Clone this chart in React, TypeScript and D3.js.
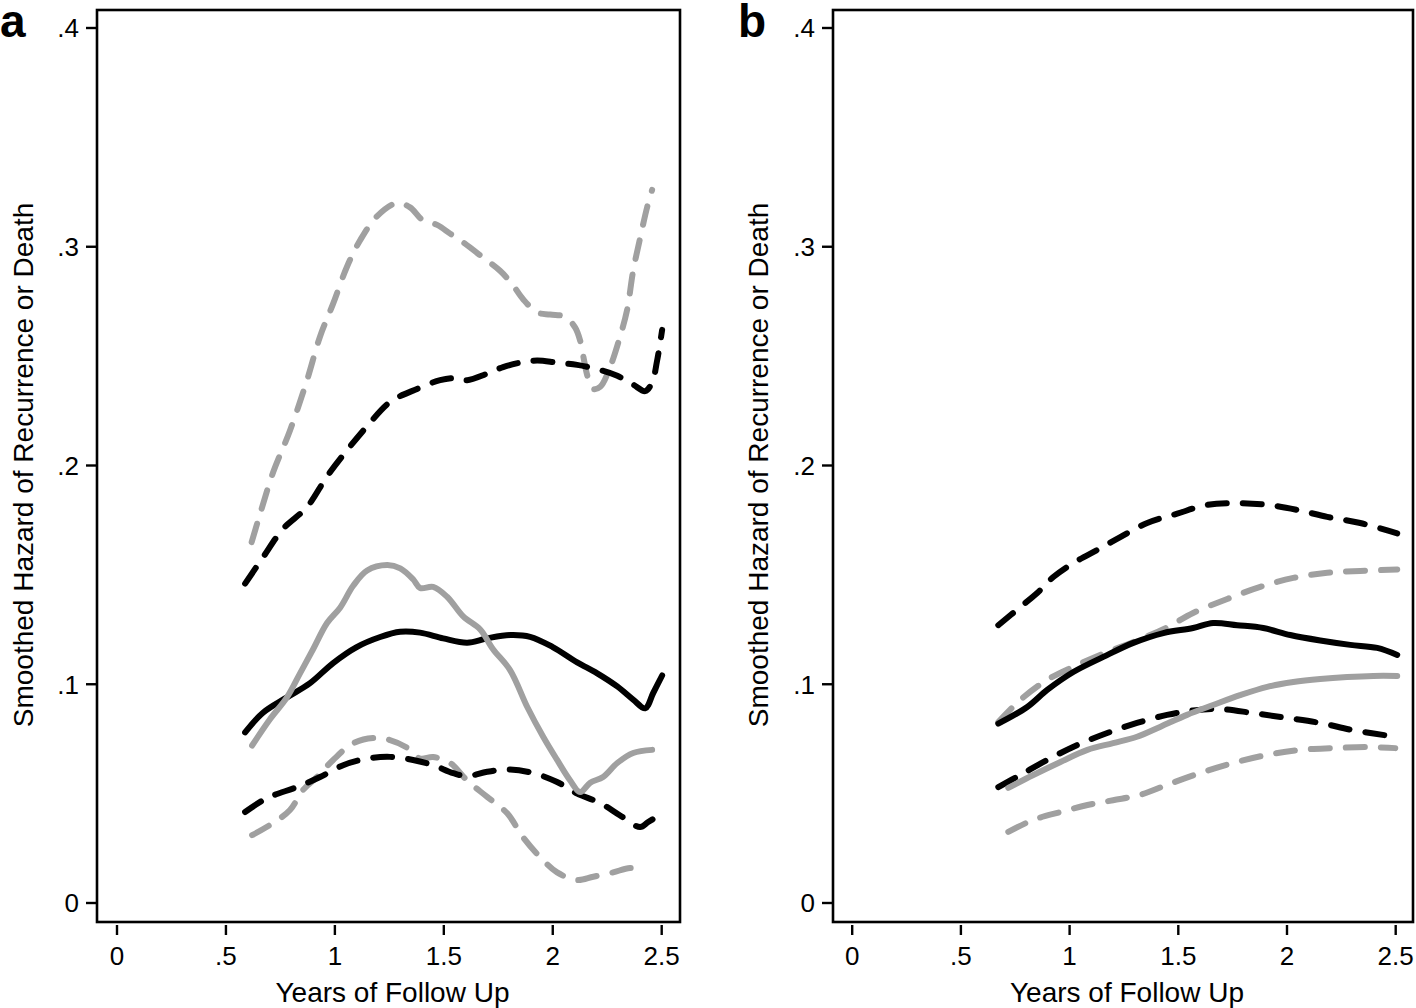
import React from "react";
import * as d3 from "d3";

type Pt = [number, number];

// ---------- Data (years, hazard) ----------
const xTicks = [0, 0.5, 1, 1.5, 2, 2.5];
const xTickLabels = ["0", ".5", "1", "1.5", "2", "2.5"];
const yTicks = [0, 0.1, 0.2, 0.3, 0.4];
const yTickLabels = ["0", ".1", ".2", ".3", ".4"];

// Panel a
const aGrayDashUpper: Pt[] = [
  [0.618, 0.165], [0.648, 0.175], [0.717, 0.197], [0.794, 0.216], [0.872, 0.239], [0.932, 0.259],
  [0.992, 0.274], [1.056, 0.291], [1.116, 0.303], [1.194, 0.314], [1.286, 0.320], [1.345, 0.318],
  [1.405, 0.312], [1.469, 0.310], [1.529, 0.306], [1.589, 0.302], [1.681, 0.295], [1.758, 0.289],
  [1.813, 0.283], [1.864, 0.276], [1.928, 0.270], [1.988, 0.269], [2.057, 0.268], [2.103, 0.263],
  [2.126, 0.257], [2.14, 0.250], [2.162, 0.240], [2.186, 0.235], [2.218, 0.236], [2.263, 0.245],
  [2.309, 0.259], [2.341, 0.271], [2.369, 0.289], [2.401, 0.304], [2.433, 0.318], [2.456, 0.326],
];
const aBlackDashUpper: Pt[] = [
  [0.588, 0.146], [0.670, 0.158], [0.762, 0.171], [0.872, 0.181], [0.964, 0.195], [1.056, 0.207],
  [1.148, 0.218], [1.253, 0.229], [1.377, 0.235], [1.483, 0.239], [1.56, 0.240], [1.607, 0.239],
  [1.699, 0.242], [1.772, 0.245], [1.850, 0.247], [1.928, 0.248], [2.020, 0.247], [2.112, 0.246],
  [2.204, 0.244], [2.296, 0.241], [2.369, 0.237], [2.424, 0.234], [2.456, 0.238], [2.479, 0.248],
  [2.502, 0.262],
];
const aGraySolid: Pt[] = [
  [0.620, 0.072], [0.702, 0.084], [0.78, 0.094], [0.840, 0.105], [0.900, 0.116], [0.964, 0.128],
  [1.024, 0.135], [1.084, 0.145], [1.148, 0.152], [1.24, 0.1545], [1.30, 0.153], [1.359, 0.148],
  [1.391, 0.144], [1.451, 0.1445], [1.515, 0.140], [1.589, 0.131], [1.667, 0.125], [1.726, 0.116],
  [1.804, 0.1065], [1.883, 0.0896], [1.956, 0.076], [2.02, 0.0654], [2.08, 0.056], [2.126, 0.0507],
  [2.172, 0.055], [2.231, 0.0576], [2.296, 0.064], [2.369, 0.0686], [2.456, 0.070],
];
const aBlackSolid: Pt[] = [
  [0.588, 0.078], [0.670, 0.087], [0.780, 0.094], [0.886, 0.1005], [0.992, 0.1097], [1.10, 0.117],
  [1.208, 0.1216], [1.30, 0.124], [1.391, 0.1236], [1.497, 0.121], [1.607, 0.119], [1.699, 0.121],
  [1.804, 0.1225], [1.896, 0.1217], [2.0, 0.117], [2.112, 0.110], [2.204, 0.105], [2.296, 0.099],
  [2.369, 0.093], [2.424, 0.089], [2.461, 0.096], [2.502, 0.104],
];
const aBlackDashLower: Pt[] = [
  [0.588, 0.0416], [0.689, 0.048], [0.826, 0.053], [0.932, 0.0576], [1.038, 0.063], [1.148, 0.066],
  [1.253, 0.0668], [1.359, 0.0654], [1.451, 0.063], [1.543, 0.0594], [1.607, 0.058], [1.699, 0.060],
  [1.804, 0.061], [1.910, 0.0594], [2.02, 0.0553], [2.112, 0.050], [2.218, 0.0457], [2.309, 0.040],
  [2.401, 0.0347], [2.438, 0.037], [2.502, 0.041],
];
const aGrayDashLower: Pt[] = [
  [0.620, 0.031], [0.717, 0.0366], [0.794, 0.0425], [0.854, 0.0517], [0.918, 0.0576], [0.992, 0.0654],
  [1.084, 0.073], [1.175, 0.0754], [1.253, 0.0745], [1.331, 0.071], [1.391, 0.066], [1.451, 0.0667],
  [1.529, 0.064], [1.607, 0.056], [1.699, 0.0485], [1.791, 0.041], [1.864, 0.030], [1.942, 0.021],
  [2.02, 0.014], [2.112, 0.0105], [2.186, 0.012], [2.277, 0.014], [2.355, 0.016], [2.424, 0.015],
];

// Panel b
const bBlackDashUpper: Pt[] = [
  [0.672, 0.127], [0.773, 0.1353], [0.851, 0.1417], [0.925, 0.149], [1.017, 0.1554], [1.127, 0.1614],
  [1.233, 0.1673], [1.357, 0.1737], [1.495, 0.178], [1.633, 0.182], [1.771, 0.1828], [1.909, 0.182],
  [2.047, 0.1797], [2.185, 0.1765], [2.337, 0.1737], [2.507, 0.169],
];
const bGrayDashUpper: Pt[] = [
  [0.672, 0.0827], [0.773, 0.0928], [0.897, 0.102], [1.017, 0.108], [1.155, 0.114], [1.31, 0.120],
  [1.448, 0.126], [1.568, 0.1326], [1.725, 0.139], [1.877, 0.1445], [2.029, 0.1486], [2.185, 0.151],
  [2.337, 0.1518], [2.507, 0.1525],
];
const bBlackSolid: Pt[] = [
  [0.672, 0.082], [0.805, 0.0896], [0.897, 0.0974], [1.017, 0.1056], [1.155, 0.1125], [1.293, 0.1189],
  [1.431, 0.1234], [1.568, 0.1257], [1.66, 0.128], [1.771, 0.127], [1.891, 0.1257], [2.015, 0.1225],
  [2.153, 0.120], [2.291, 0.118], [2.415, 0.1166], [2.507, 0.1134],
];
const bGraySolid: Pt[] = [
  [0.718, 0.0526], [0.833, 0.0585], [0.958, 0.0645], [1.082, 0.070], [1.2, 0.0731], [1.31, 0.076],
  [1.416, 0.0805], [1.54, 0.086], [1.66, 0.0905], [1.784, 0.095], [1.909, 0.0988], [2.029, 0.101],
  [2.153, 0.1024], [2.277, 0.1033], [2.397, 0.1038], [2.507, 0.1038],
];
const bBlackDashLower: Pt[] = [
  [0.672, 0.053], [0.773, 0.0585], [0.897, 0.0654], [1.035, 0.0722], [1.173, 0.0777], [1.31, 0.0823],
  [1.448, 0.086], [1.568, 0.088], [1.692, 0.0887], [1.844, 0.0868], [1.999, 0.0846], [2.153, 0.0823],
  [2.305, 0.079], [2.507, 0.0759],
];
const bGrayDashLower: Pt[] = [
  [0.718, 0.0325], [0.833, 0.038], [0.958, 0.0416], [1.082, 0.0448], [1.2, 0.047], [1.324, 0.0494],
  [1.448, 0.054], [1.6, 0.0594], [1.752, 0.064], [1.909, 0.0677], [2.061, 0.070], [2.213, 0.0708],
  [2.369, 0.0713], [2.498, 0.0708],
];

const GRAY = "#a0a0a0";
const BLACK = "#000000";
const FONT = "'Liberation Sans', Arial, Helvetica, sans-serif";

type Series = { data: Pt[]; color: string; dashed: boolean };

const panelA: Series[] = [
  { data: aGrayDashUpper, color: GRAY, dashed: true },
  { data: aBlackDashUpper, color: BLACK, dashed: true },
  { data: aGrayDashLower, color: GRAY, dashed: true },
  { data: aBlackDashLower, color: BLACK, dashed: true },
  { data: aBlackSolid, color: BLACK, dashed: false },
  { data: aGraySolid, color: GRAY, dashed: false },
];
const panelB: Series[] = [
  { data: bGrayDashLower, color: GRAY, dashed: true },
  { data: bGrayDashUpper, color: GRAY, dashed: true },
  { data: bBlackDashUpper, color: BLACK, dashed: true },
  { data: bBlackDashLower, color: BLACK, dashed: true },
  { data: bGraySolid, color: GRAY, dashed: false },
  { data: bBlackSolid, color: BLACK, dashed: false },
];

type Layout = {
  label: string;
  labelX: number;
  frameL: number;
  frameR: number;
  x0: number;
  x25: number;
  titleX: number;
};

const Panel: React.FC<{ layout: Layout; series: Series[] }> = ({ layout, series }) => {
  const frameT = 10;
  const frameB = 922;
  const x = d3.scaleLinear().domain([0, 2.5]).range([layout.x0, layout.x25]);
  const y = d3.scaleLinear().domain([0, 0.4]).range([903, 28]);
  const line = d3
    .line<Pt>()
    .x((d) => x(d[0]))
    .y((d) => y(d[1]))
    .curve(d3.curveCatmullRom.alpha(0.5));
  const cx = (layout.frameL + layout.frameR) / 2;
  return (
    <g>
      <text x={layout.labelX} y={37} fontFamily={FONT} fontWeight="bold" fontSize={46}>
        {layout.label}
      </text>
      {series.map((s, i) => (
        <path
          key={i}
          d={line(s.data) || ""}
          fill="none"
          stroke={s.color}
          strokeWidth={6}
          strokeLinecap="round"
          strokeLinejoin="round"
          strokeDasharray={s.dashed ? "19 16" : undefined}
        />
      ))}
      <rect
        x={layout.frameL}
        y={frameT}
        width={layout.frameR - layout.frameL}
        height={frameB - frameT}
        fill="none"
        stroke="#000"
        strokeWidth={2.6}
      />
      {yTicks.map((t, i) => (
        <g key={"y" + i}>
          <line x1={layout.frameL - 11} x2={layout.frameL} y1={y(t)} y2={y(t)} stroke="#000" strokeWidth={2.4} />
          <text
            x={layout.frameL - 18}
            y={y(t)}
            dy="0.36em"
            textAnchor="end"
            fontFamily={FONT}
            fontSize={26}
          >
            {yTickLabels[i]}
          </text>
        </g>
      ))}
      {xTicks.map((t, i) => (
        <g key={"x" + i}>
          <line x1={x(t)} x2={x(t)} y1={925} y2={935} stroke="#000" strokeWidth={2.4} />
          <text x={x(t)} y={965} textAnchor="middle" fontFamily={FONT} fontSize={26}>
            {xTickLabels[i]}
          </text>
        </g>
      ))}
      <text x={cx + 4} y={1002} textAnchor="middle" fontFamily={FONT} fontSize={28}>
        Years of Follow Up
      </text>
      <text
        transform={`translate(${layout.titleX},${465}) rotate(-90)`}
        textAnchor="middle"
        fontFamily={FONT}
        fontSize={28}
      >
        Smoothed Hazard of Recurrence or Death
      </text>
    </g>
  );
};

const layoutA: Layout = { label: "a", labelX: 0, frameL: 97, frameR: 680, x0: 117, x25: 661.7, titleX: 33 };
const layoutB: Layout = { label: "b", labelX: 738, frameL: 833, frameR: 1413, x0: 852.2, x25: 1395.7, titleX: 768 };

export default function App() {
  return (
    <svg
      width={1416}
      height={1008}
      viewBox="0 0 1416 1008"
      style={{ position: "absolute", left: 0, top: 0, background: "#fff" }}
    >
      <rect width={1416} height={1008} fill="#fff" />
      <Panel layout={layoutA} series={panelA} />
      <Panel layout={layoutB} series={panelB} />
    </svg>
  );
}
